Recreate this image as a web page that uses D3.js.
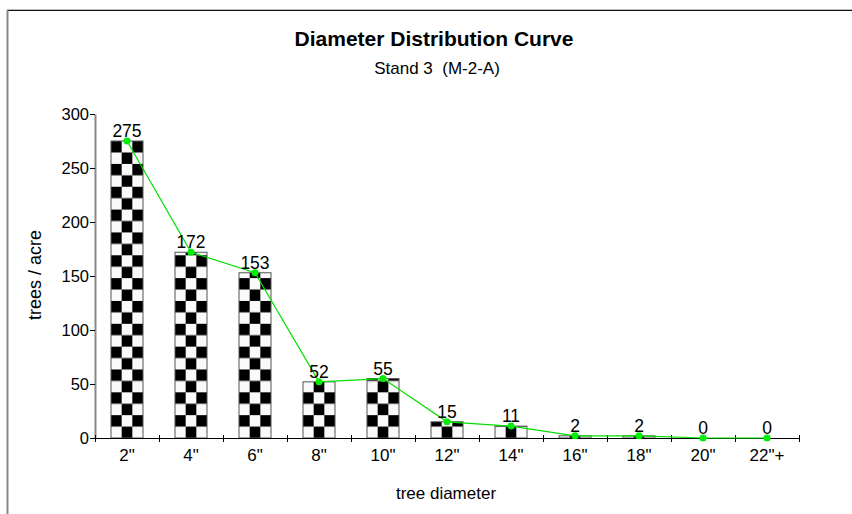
<!DOCTYPE html>
<meta charset="utf-8">
<title>Diameter Distribution Curve</title>
<style>
  body { margin: 0; background: #fff; }
  text { font-family: "Liberation Sans", Arial, sans-serif; }
</style>
<body>
  <script src="https://d3js.org/d3.v7.min.js"></script>
  <script>
    const width = 852;
    const height = 514;

    // chart data
    const diameters = ['2"', '4"', '6"', '8"', '10"', '12"', '14"', '16"', '18"', '20"', '22"+'];
    const treesPerAcre = [275, 172, 153, 52, 55, 15, 11, 2, 2, 0, 0];
    const yTicks = [0, 50, 100, 150, 200, 250, 300];

    const data = diameters.map((d, i) => ({name: d, total: treesPerAcre[i]}));

    const svg = d3.select("body")
      .append("svg")
      .attr("width", width)
      .attr("height", height);

    // frame of the picture (top and left edges visible)
    svg.append("line")
      .attr("x1", 7).attr("x2", width).attr("y1", 9.5).attr("y2", 9.5)
      .attr("stroke", "#bbb").attr("stroke-width", 1);
    svg.append("line")
      .attr("x1", 7).attr("x2", width).attr("y1", 10.5).attr("y2", 10.5)
      .attr("stroke", "#111").attr("stroke-width", 1);
    svg.append("line")
      .attr("x1", 7.5).attr("x2", 7.5).attr("y1", 10).attr("y2", height)
      .attr("stroke", "#888").attr("stroke-width", 2);

    const plotLeft = 95, plotRight = 799, plotTop = 114, plotBottom = 438;

    const x = d3.scaleBand()
      .domain(diameters)
      .range([plotLeft, plotRight])
      .paddingInner(0.5)
      .paddingOuter(0.25);

    const y = d3.scaleLinear()
      .domain([0, 300])
      .range([plotBottom, plotTop]);

    // checkerboard pattern, one per bar so cells line up with the bar edges
    const defs = svg.append("defs");
    const cellW = x.bandwidth() / 3;
    const cellH = 11.42;
    data.forEach((d, i) => {
      const p = defs.append("pattern")
        .attr("id", "chk" + i)
        .attr("patternUnits", "userSpaceOnUse")
        .attr("x", x(d.name))
        .attr("y", plotBottom)
        .attr("width", cellW * 2)
        .attr("height", cellH * 2);
      p.append("rect").attr("width", cellW * 2).attr("height", cellH * 2).attr("fill", "#fafafa");
      p.append("rect").attr("x", 0).attr("y", 0).attr("width", cellW).attr("height", cellH).attr("fill", "#000");
      p.append("rect").attr("x", cellW).attr("y", cellH).attr("width", cellW).attr("height", cellH).attr("fill", "#000");
    });

    // bars
    svg.append("g")
      .selectAll("rect")
      .data(data)
      .enter()
      .append("rect")
      .attr("x", d => x(d.name))
      .attr("y", d => y(d.total))
      .attr("width", x.bandwidth())
      .attr("height", d => plotBottom - y(d.total))
      .attr("fill", (d, i) => "url(#chk" + i + ")")
      .attr("stroke", "#555")
      .attr("stroke-width", 1);

    // y axis
    const yAxis = svg.append("g")
      .attr("transform", "translate(" + plotLeft + ",0)")
      .call(d3.axisLeft(y).tickValues(yTicks).tickSize(5).tickSizeOuter(0).tickPadding(1));
    yAxis.select(".domain").attr("stroke", "#888").attr("stroke-width", 2);
    yAxis.selectAll(".tick line").attr("stroke", "#000");
    yAxis.selectAll("text").attr("font-size", 16.5).attr("fill", "#000")
      .style("font-family", "'Liberation Sans', Arial, sans-serif");

    // x axis: ticks on band edges, labels in band centres
    const edges = diameters.map(d => x(d) - x.step() * x.paddingInner() / 2).concat([plotRight]);
    const xg = svg.append("g");
    xg.append("line")
      .attr("x1", plotLeft - 3).attr("x2", plotRight)
      .attr("y1", plotBottom + 0.5).attr("y2", plotBottom + 0.5)
      .attr("stroke", "#000");
    xg.selectAll("line.tk")
      .data(edges)
      .enter()
      .append("line")
      .attr("class", "tk")
      .attr("x1", d => Math.round(d) + 0.5).attr("x2", d => Math.round(d) + 0.5)
      .attr("y1", plotBottom - 3).attr("y2", plotBottom + 4)
      .attr("stroke", "#000");
    xg.selectAll("text")
      .data(diameters)
      .enter()
      .append("text")
      .attr("x", d => x(d) + x.bandwidth() / 2)
      .attr("y", plotBottom + 23)
      .attr("text-anchor", "middle")
      .attr("font-size", 17)
      .text(d => d);

    // green curve through the bar tops
    const line = d3.line()
      .x(d => x(d.name) + x.bandwidth() / 2)
      .y(d => y(d.total));
    svg.append("path")
      .datum(data)
      .attr("d", line)
      .attr("fill", "none")
      .attr("stroke", "#00e000")
      .attr("stroke-width", 1.2);
    svg.append("g")
      .selectAll("circle")
      .data(data)
      .enter()
      .append("circle")
      .attr("cx", d => x(d.name) + x.bandwidth() / 2)
      .attr("cy", d => y(d.total))
      .attr("r", 3.5)
      .attr("fill", "#00ee00");

    // value labels
    svg.append("g")
      .selectAll("text")
      .data(data)
      .enter()
      .append("text")
      .attr("x", d => x(d.name) + x.bandwidth() / 2)
      .attr("y", d => y(d.total) - 4)
      .attr("text-anchor", "middle")
      .attr("font-size", 17.5)
      .text(d => d.total);

    // titles
    svg.append("text")
      .attr("x", 434).attr("y", 46)
      .attr("text-anchor", "middle")
      .attr("font-size", 21).attr("font-weight", "bold")
      .text("Diameter Distribution Curve");
    svg.append("text")
      .attr("x", 437).attr("y", 74)
      .attr("text-anchor", "middle")
      .attr("font-size", 17)
      .style("white-space", "pre")
      .text("Stand 3  (M-2-A)");
    svg.append("text")
      .attr("x", 446).attr("y", 499)
      .attr("text-anchor", "middle")
      .attr("font-size", 17)
      .text("tree diameter");
    svg.append("text")
      .attr("transform", "translate(41,275) rotate(-90)")
      .attr("text-anchor", "middle")
      .attr("font-size", 18)
      .text("trees / acre");
  </script>
</body>
